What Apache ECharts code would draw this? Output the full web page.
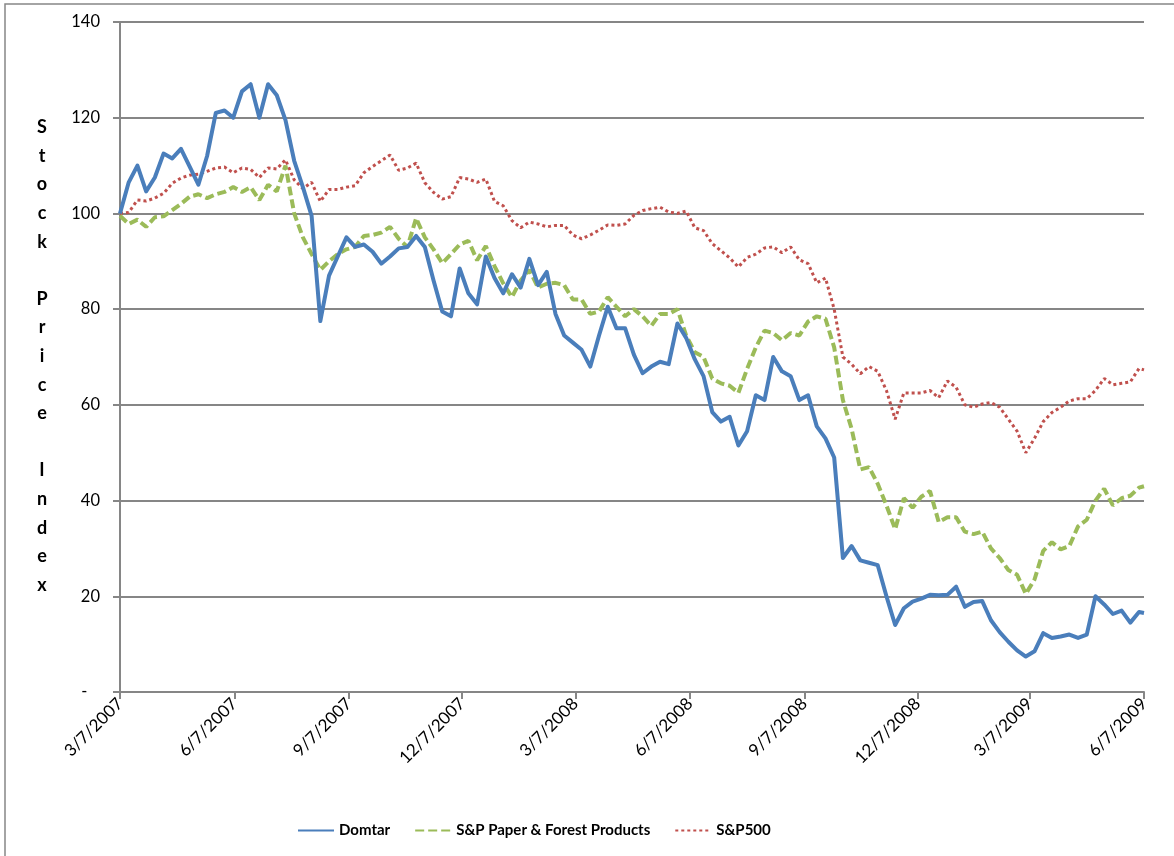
<!DOCTYPE html>
<html>
<head>
<meta charset="utf-8">
<script src="https://cdn.jsdelivr.net/npm/echarts@6/dist/echarts.min.js"></script>
<style>
html,body{margin:0;padding:0;background:#fff;}
#chart{width:1174px;height:856px;}
</style>
</head>
<body>
<div id="chart"></div>
<script>
const dates = [
'2007-03-07','2007-03-14','2007-03-21','2007-03-28','2007-04-04','2007-04-11','2007-04-18','2007-04-25','2007-05-02','2007-05-09',
'2007-05-16','2007-05-23','2007-05-30','2007-06-06','2007-06-13','2007-06-20','2007-06-27','2007-07-04','2007-07-11','2007-07-18',
'2007-07-25','2007-08-01','2007-08-08','2007-08-15','2007-08-22','2007-08-29','2007-09-05','2007-09-12','2007-09-19','2007-09-26',
'2007-10-03','2007-10-10','2007-10-17','2007-10-24','2007-10-31','2007-11-07','2007-11-14','2007-11-21','2007-11-28','2007-12-05',
'2007-12-12','2007-12-19','2007-12-26','2008-01-02','2008-01-09','2008-01-16','2008-01-23','2008-01-30','2008-02-06','2008-02-13',
'2008-02-20','2008-02-27','2008-03-05','2008-03-12','2008-03-19','2008-03-26','2008-04-02','2008-04-09','2008-04-16','2008-04-23',
'2008-04-30','2008-05-07','2008-05-14','2008-05-21','2008-05-28','2008-06-04','2008-06-11','2008-06-18','2008-06-25','2008-07-02',
'2008-07-09','2008-07-16','2008-07-23','2008-07-30','2008-08-06','2008-08-13','2008-08-20','2008-08-27','2008-09-03','2008-09-10',
'2008-09-17','2008-09-24','2008-10-01','2008-10-08','2008-10-15','2008-10-22','2008-10-29','2008-11-05','2008-11-12','2008-11-19',
'2008-11-26','2008-12-03','2008-12-10','2008-12-17','2008-12-24','2008-12-31','2009-01-07','2009-01-14','2009-01-21','2009-01-28',
'2009-02-04','2009-02-11','2009-02-18','2009-02-25','2009-03-04','2009-03-11','2009-03-18','2009-03-25','2009-04-01','2009-04-08',
'2009-04-15','2009-04-22','2009-04-29','2009-05-06','2009-05-13','2009-05-20','2009-05-27','2009-06-03','2009-06-07'
];

const domtar = [
100,106.5,110,104.6,107.5,112.5,111.5,113.5,109.8,106,
112,121,121.5,120,125.5,127,120,127,124.7,119.5,
111,105.5,99.5,77.5,87,91,95,93,93.5,92,
89.5,91,92.7,93,95.3,93,86,79.5,78.5,88.5,
83.3,81,91,86.5,83.3,87.3,84.5,90.5,85,87.8,
79,74.5,73,71.5,68,74.5,80.5,76,76,70.5,
66.6,68,69,68.5,77,74,69.5,66,58.5,56.5,
57.5,51.5,54.5,62,61,70,67,66,61,62,
55.5,53,49,28,30.5,27.5,27,26.5,20,14,
17.5,18.9,19.5,20.3,20.2,20.3,22,17.8,18.8,19,
15,12.5,10.5,8.7,7.4,8.5,12.3,11.3,11.6,12,
11.3,12,20,18.3,16.3,17,14.5,16.7,16.5
];

const paperForest = [
99.5,97.8,98.7,97.2,99.2,99.4,100.7,102,103.5,104,
103.2,104,104.5,105.5,104.5,105.5,102.8,106,104.6,110,
100,95,91.5,88.2,90,91.5,92.5,93,95.3,95.5,
96,97.2,94.7,93,99,95,92.5,89.6,91.5,93.5,
94.3,90.2,93.2,89,85.4,82.5,86,88.2,84.5,85.3,
85.5,85,82,82,79,79.5,82.5,80.5,78.5,80,
78.5,76.5,79,79,80,74.5,71,70,65.5,64.5,
64,62.5,67.5,72,75.5,75,73.5,75,74.5,77.4,
78.5,78,72,61,55,46.5,47,43.5,39,34,
40.5,38.5,40.8,42,35.5,36.5,36.5,33.5,33,33.5,
30,28,25.5,24.5,20.5,23.5,29.5,31.3,29.8,30.5,
34.6,36,40,42.5,39,40.5,41,42.7,43
];

const sp500 = [
100,100.2,102.8,102.6,103.2,104.2,106.3,107.4,108,108.2,
108.8,109.5,109.7,108.5,109.5,109.2,107.5,109.5,109.3,111.2,
107,105.2,106.5,102.5,105,105,105.5,105.8,108.5,109.8,
111,112.2,109,109.5,110.5,106.4,104.4,103,103.5,107.5,
107.2,106.5,107.2,102.5,101.6,98.5,97,98.2,97.8,97.2,
97.5,97.5,95.5,94.7,95.5,96.5,97.6,97.5,97.8,99.6,
100.6,101,101.3,100.3,100,100.5,97,96.4,93.7,92.2,
90.7,88.8,90.8,91.5,92.8,93,91.8,93,90.3,89.5,
85.5,86.5,80,70,68.5,66.5,68,67,63,57,
62.5,62.5,62.5,63,61.5,65,63.7,60,59.5,60.2,
60.5,59.5,57,54.5,50,53,56.5,58.4,59.5,60.8,
61.3,61.3,63,65.5,64.2,64.5,64.8,67.6,67.3
];

const tickDates = ['2007-03-07','2007-06-07','2007-09-07','2007-12-07','2008-03-07','2008-06-07','2008-09-07','2008-12-07','2009-03-07','2009-06-07'];
const yTicks = [0,20,40,60,80,100,120,140];
const seriesNames = ['Domtar','S&P Paper & Forest Products','S&P500'];
const yTitle = 'Stock Price Index';

function ts(s){ const p=s.split('-'); return Date.UTC(+p[0], +p[1]-1, +p[2]); }
function pairs(vals){ return dates.map((d,i)=>[ts(d), vals[i]]); }
function fmtDate(v){ const d=new Date(v); return (d.getUTCMonth()+1)+'/'+d.getUTCDate()+'/'+d.getUTCFullYear(); }

const chart = echarts.init(document.getElementById('chart'), null, {renderer:'canvas'});
const FONT = 'Lato, "Open Sans", sans-serif';
const tickTs = tickDates.map(ts);

chart.setOption({
  animation:false,
  backgroundColor:'#fff',
  textStyle:{fontFamily:FONT},
  grid:{left:120, right:30, top:22, bottom:164, containLabel:false},
  legend:{
    left:297, top:823, padding:0,
    itemWidth:36, itemHeight:14, itemGap:24,
    itemStyle:{opacity:0},
    textStyle:{fontFamily:FONT, fontSize:15, fontWeight:'bold', color:'#000'},
    data:seriesNames
  },
  graphic:[
    {type:'rect', shape:{x:5, y:4, width:1300, height:1000}, style:{fill:null, stroke:'#878787', lineWidth:1.5}, silent:true},
    {type:'text', x:42, y:113, style:{text:yTitle.split('').join('\n'), font:'bold 18px '+FONT, fill:'#000', lineHeight:28.6, align:'center'}}
  ],
  xAxis:{
    type:'value',
    min:tickTs[0], max:tickTs[tickTs.length-1],
    axisLine:{show:true, lineStyle:{color:'#868686', width:2}},
    axisTick:{show:true, length:7, customValues:tickTs, lineStyle:{color:'#868686', width:2}},
    axisLabel:{
      customValues:tickTs,
      rotate:45, margin:9, fontSize:17, color:'#000', fontFamily:FONT,
      formatter:function(v){ return fmtDate(v); }
    },
    splitLine:{show:false}
  },
  yAxis:{
    type:'value', min:0, max:140, interval:20,
    axisLine:{show:true, lineStyle:{color:'#868686', width:2}},
    axisTick:{show:true, length:7, inside:false, lineStyle:{color:'#868686', width:2}},
    axisLabel:{margin:20, fontSize:16.5, color:'#000', fontFamily:FONT,
      formatter:function(v){ return v===0 ? '-   ' : String(v); }},
    splitLine:{show:true, lineStyle:{color:'#868686', width:2}}
  },
  series:[
    {name:seriesNames[0], type:'line', data:pairs(domtar), showSymbol:false, symbol:'none',
     lineStyle:{color:'#4a7ebb', width:4, join:'round'}, itemStyle:{color:'#4a7ebb'}, z:3},
    {name:seriesNames[1], type:'line', data:pairs(paperForest), showSymbol:false, symbol:'none',
     lineStyle:{color:'#9bbb59', width:4, type:[9,4], cap:'butt'}, itemStyle:{color:'#9bbb59'}, z:2},
    {name:seriesNames[2], type:'line', data:pairs(sp500), showSymbol:false, symbol:'none',
     lineStyle:{color:'#c0504d', width:3, type:[3,3], cap:'butt'}, itemStyle:{color:'#c0504d'}, z:1}
  ]
});
</script>
</body>
</html>
